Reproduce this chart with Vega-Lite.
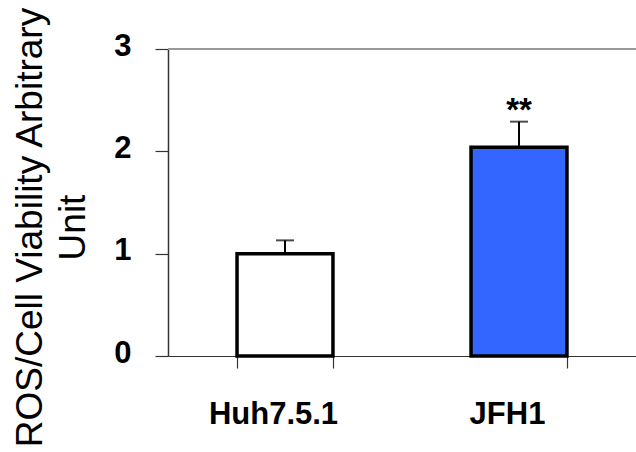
{
  "$schema": "https://vega.github.io/schema/vega-lite/v6.json",
  "autosize": "none",
  "width": 468,
  "height": 307,
  "padding": {"left": 168, "top": 49, "right": 0, "bottom": 96},
  "background": "white",
  "config": {"view": {"stroke": null}, "font": "Liberation Sans"},
  "data": {"values": [
    {"group": "Huh7.5.1", "value": 1.0, "hi": 1.13, "sig": ""},
    {"group": "JFH1", "value": 2.04, "hi": 2.29, "sig": "**"}
  ]},
  "encoding": {
    "x": {
      "field": "group", "type": "nominal", "sort": null,
      "scale": {"paddingInner": 0.59, "paddingOuter": 0.295},
      "axis": {
        "title": null, "labelAngle": 0, "tickBand": "extent",
        "labelFont": "Liberation Sans", "labelFontWeight": "bold", "labelFontSize": 31,
        "labelColor": "#000000", "labelPadding": 31, "labelOffset": -12,
        "ticks": true, "tickSize": 12, "tickColor": "#333333", "domainColor": "#333333", "domainWidth": 1, "tickWidth": 1.2
      }
    }
  },
  "layer": [
    {
      "mark": {"type": "rule", "color": "#999999", "strokeWidth": 2},
      "encoding": {"x": null, "y": {"datum": 3, "type": "quantitative"}}
    },
    {
      "mark": {"type": "bar", "stroke": "#000000", "strokeWidth": 3.5},
      "encoding": {
        "y": {
          "field": "value", "type": "quantitative",
          "scale": {"domain": [0, 3], "nice": false},
          "axis": {
            "values": [0, 1, 2, 3], "format": "d", "grid": false,
            "ticks": true, "tickSize": 13, "tickColor": "#333333", "domainColor": "#333333", "domainWidth": 1.5, "tickWidth": 1.2,
            "labelFont": "Liberation Sans", "labelFontWeight": "bold", "labelFontSize": 31,
            "labelColor": "#000000", "labelPadding": 24, "labelOffset": -3,
            "title": ["ROS/Cell Viability Arbitrary", "Unit"],
            "titleFont": "Liberation Sans", "titleFontWeight": "normal", "titleFontSize": 37,
            "titleColor": "#000000", "titleLineHeight": 43, "titleAngle": -90,
            "titleAlign": "center", "titleBaseline": "alphabetic",
            "titleX": -127, "titleY": 178
          }
        },
        "fill": {
          "field": "group", "type": "nominal",
          "scale": {"domain": ["Huh7.5.1", "JFH1"], "range": ["#ffffff", "#3366ff"]},
          "legend": null
        }
      }
    },
    {
      "mark": {"type": "rule", "color": "#000000", "strokeWidth": 2},
      "encoding": {
        "y": {"field": "value", "type": "quantitative"},
        "y2": {"field": "hi"}
      }
    },
    {
      "mark": {"type": "tick", "color": "#000000", "thickness": 2, "size": 18, "orient": "horizontal"},
      "encoding": {"y": {"field": "hi", "type": "quantitative"}}
    },
    {
      "mark": {"type": "text", "font": "Liberation Sans", "fontWeight": "bold", "fontSize": 33, "baseline": "alphabetic", "dy": -1, "color": "#000000"},
      "encoding": {
        "y": {"field": "hi", "type": "quantitative"},
        "text": {"field": "sig"}
      }
    }
  ]
}
